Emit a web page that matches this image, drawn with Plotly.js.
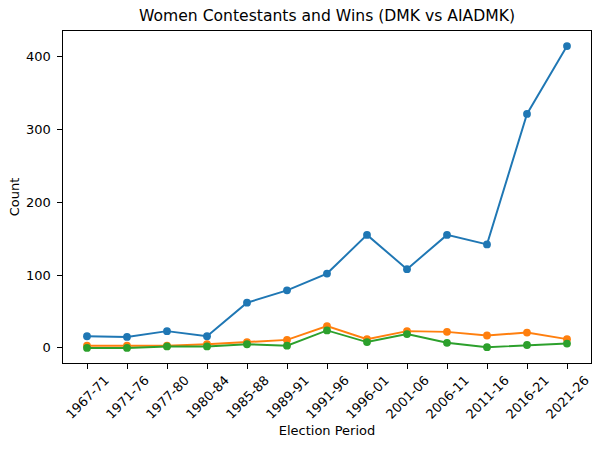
<!DOCTYPE html>
<html>
<head>
<meta charset="utf-8">
<script src="https://cdn.plot.ly/plotly-3.0.1.min.js"></script>
<style>
  html, body { margin: 0; padding: 0; background: #fff; }
  #chart { width: 600px; height: 450px; }
</style>
</head>
<body>
<div id="chart"></div>
<script>
// ─── Data ───

const periods = [
  "1967-71", "1971-76", "1977-80", "1980-84", "1985-88", "1989-91", "1991-96",
  "1996-01", "2001-06", "2006-11", "2011-16", "2016-21", "2021-26",
];
const contestants = [16, 15, 23, 16, 62, 79, 102, 155, 108, 155, 142, 321, 414];
const dmkWins = [3, 3, 3, 5, 8, 11, 30, 12, 23, 22, 17, 21, 12];
const aiadmkWins = [0, 0, 2, 2, 5, 3, 24, 8, 19, 7, 1, 4, 6];

// ─── Style ───

const font = { family: "DejaVu Sans, sans-serif", size: 13, color: "#000" };
const colors = ["#1f77b4", "#ff7f0e", "#2ca02c"];

const line = (y, name, color) => ({
  x: periods,
  y,
  name,
  type: "scatter",
  mode: "lines+markers",
  line: { color, width: 1.95 },
  marker: { color, size: 7.8 },
  cliponaxis: false,
});

const traces = [
  line(contestants, "Women Contestants", colors[0]),
  line(dmkWins, "DMK Wins", colors[1]),
  line(aiadmkWins, "AIADMK Wins", colors[2]),
];

// category labels centred under the ticks, rotated like matplotlib
const tickNotes = periods.map((p) => ({
  x: p,
  xref: "x",
  y: 0,
  yref: "paper",
  xanchor: "center",
  yanchor: "middle",
  yshift: -34,
  text: p,
  textangle: -45,
  showarrow: false,
  font,
}));

const axisBase = {
  showline: true,
  mirror: true,
  linecolor: "#000",
  linewidth: 1,
  ticks: "outside",
  ticklen: 4.6,
  tickwidth: 1,
  tickcolor: "#000",
  showgrid: false,
  zeroline: false,
  tickfont: font,
  automargin: true,
};

const layout = {
  width: 600,
  height: 450,
  paper_bgcolor: "#fff",
  plot_bgcolor: "#fff",
  font,
  showlegend: false,
  margin: { l: 63, r: 9, t: 31, b: 87 },
  title: {
    text: "Women Contestants and Wins (DMK vs AIADMK)",
    font: { family: font.family, size: 15.6, color: "#000" },
    x: 0.5,
    xref: "paper",
    y: 1 - 16 / 450,
    yref: "container",
    yanchor: "middle",
  },
  xaxis: Object.assign({}, axisBase, {
    type: "category",
    range: [-0.6, periods.length - 1 + 0.6],
    showticklabels: false,
    title: { text: "Election Period", font, standoff: 58 },
  }),
  yaxis: Object.assign({}, axisBase, {
    range: [-20.7, 434.7],
    tickvals: [0, 100, 200, 300, 400],
    ticklabelstandoff: 4,
    title: { text: "Count", font, standoff: 3 },
  }),
  annotations: tickNotes,
};

Plotly.newPlot("chart", traces, layout, { displayModeBar: false, staticPlot: true });
</script>
</body>
</html>
